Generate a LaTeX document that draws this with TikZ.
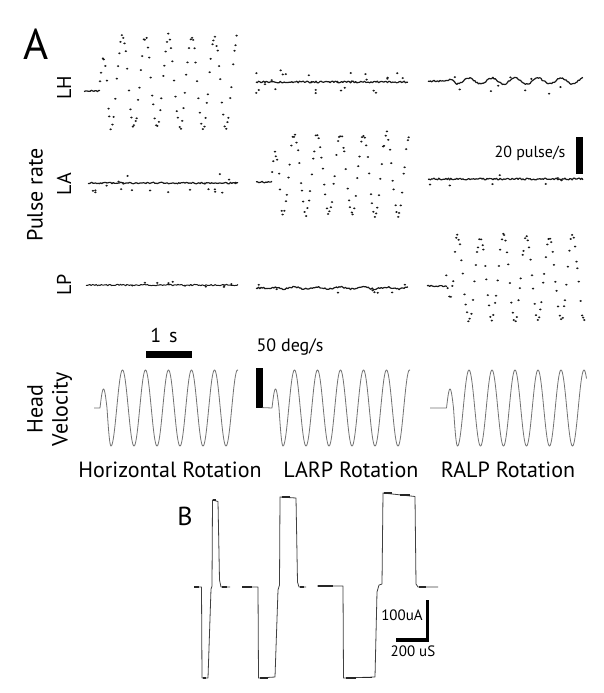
\documentclass[tikz,border=0pt]{standalone}
\usepackage{fontspec}
\setmainfont{PT Sans}
\begin{document}
\begin{tikzpicture}[x=1pt,y=-1pt,
  declare function={hv(\u)=(\u<7)?(0.5*sin(25.714*\u)):((\u<11)?(-sin(22.5*(\u-7))):(-cos(15.6522*(\u-11))));},
  trace/.style={line width=1.2pt, black!90, line join=round},
  hvline/.style={line width=0.8pt, black!55, line join=round},
  pulse/.style={line width=0.8pt, black!75, line join=round},
  pulsedark/.style={line width=1.7pt, black!85},
  dotf/.style={fill=black!90},
  big/.style={font=\fontsize{43}{43}\selectfont, inner sep=0pt},
  bigb/.style={font=\fontsize{26}{26}\selectfont, inner sep=0pt},
  rowlbl/.style={font=\fontsize{20}{20}\selectfont, inner sep=0pt, rotate=90},
  axlbl/.style={font=\fontsize{22}{22}\selectfont, inner sep=0pt, rotate=90},
  cond/.style={font=\fontsize{22}{22}\selectfont, inner sep=0pt},
  scl/.style={font=\fontsize{16}{16}\selectfont, inner sep=0pt},
  sclb/.style={font=\fontsize{15}{15}\selectfont, inner sep=0pt}
]
\useasboundingbox[fill=white] (0,0) rectangle (604,693);
\pgfmathsetseed{4242}

% ---------- labels panel A ----------
\node[big] (labA) at (36,44) {A};
\node[rowlbl] (lh) at (64,88) {LH};
\node[rowlbl] (la) at (64,184) {LA};
\node[rowlbl] (lp) at (64,285) {LP};
\node[axlbl] (prate) at (35,195) {Pulse rate};
\node[axlbl] (head) at (35,409) {Head};
\node[axlbl] (velo) at (62,409) {Velocity};
\node[cond] (c1) at (170,470) {Horizontal Rotation};
\node[cond] (c2) at (351,470) {LARP Rotation};
\node[cond] (c3) at (508,470) {RALP Rotation};

% ---------- scale bars ----------
\node[scl] (s20) at (530,153) {20 pulse/s};
\fill (576,137) rectangle (583,174);
\node[font=\fontsize{20}{20}\selectfont, inner sep=0pt] (s1) at (164,335) {1\hspace{0.4em}s};
\fill (146,351) rectangle (192,358);
\node[font=\fontsize{18}{18}\selectfont, inner sep=0pt] (s50) at (290,347) {50 deg/s};
\fill (255.5,368) rectangle (262.5,407.6);

% ---------- flat / noisy rate traces ----------
% LH
\draw[trace] plot[domain=84:100, samples=14] (\x,{91+0.8*rand});
\draw[trace] plot[domain=256:408, samples=120] (\x,{82+0.9*rand});
\draw[trace] plot[domain=428:583, samples=130] (\x,{((\x<446.5)?81:(81-3*hv(\x-446.5)))+0.8*rand});
% LA
\draw[trace] plot[domain=88:238, samples=120] (\x,{183+0.8*rand});
\draw[trace] plot[domain=256:272, samples=14] (\x,{182+0.8*rand});
\draw[trace] plot[domain=428:583, samples=130] (\x,{179+0.9*rand});
% LP
\draw[trace, line width=1pt] plot[domain=86:238, samples=120] (\x,{285+0.7*rand});
\draw[trace] plot[domain=256:408, samples=120] (\x,{((\x<272)?288:(288-1*hv(\x-272)))+0.8*rand});
\draw[trace] plot[domain=427:447, samples=16] (\x,{286+0.7*rand});

% scattered dots around the flat traces
\foreach \xa/\xb/\yc/\n/\sp in {256/408/82/26/12, 428/583/81/9/13, 88/238/183/20/10,
    428/583/179/7/8, 86/238/285/10/5, 256/408/288/8/6}{
  \foreach \k in {1,...,\n}{
    \pgfmathsetmacro\xx{\xa+(\xb-\xa)*rnd}
    \pgfmathsetmacro\yy{\yc+\sp*rand}
    \fill[dotf] (\xx,\yy) ellipse [x radius=1.3, y radius=1.0];
  }
}

% ---------- oscillating rate traces (dots) ----------
% LH, horizontal rotation
\foreach \k in {0,...,100}{
  \pgfmathsetmacro\uu{\k*1.37+0.4*rand}
  \pgfmathsetmacro\yy{82-46*hv(\uu)+3*rand}
  \fill[dotf] ({100+\uu},\yy) ellipse [x radius=1.3, y radius=1.0];
}
% LA, LARP rotation
\foreach \k in {0,...,100}{
  \pgfmathsetmacro\uu{\k*1.37+0.4*rand}
  \pgfmathsetmacro\yy{174-40*hv(\uu)+3*rand}
  \fill[dotf] ({272+\uu},\yy) ellipse [x radius=1.3, y radius=1.0];
}
% LP, RALP rotation (inverted)
\foreach \k in {0,...,100}{
  \pgfmathsetmacro\uu{\k*1.38+0.4*rand}
  \pgfmathsetmacro\yy{278+42*hv(\uu)+3*rand}
  \fill[dotf] ({446.5+\uu},\yy) ellipse [x radius=1.3, y radius=1.0];
}

% ---------- head velocity ----------
\draw[hvline] (94,408) -- (100,408) -- plot[domain=0:138, samples=320] ({100+\x},{408-38*hv(\x)});
\draw[hvline] (262.5,407.6) -- (272,408) -- plot[domain=0:138, samples=320] ({272+\x},{408-38*hv(\x)});
\draw[hvline] (430,408) -- (446.5,408) -- plot[domain=0:140, samples=320] ({446.5+\x},{408-38*hv(\x)});

% ---------- panel B ----------
\node[bigb] (labB) at (185,516) {B};
\draw[pulse] (194,587) -- (201.5,587) -- (202,678) -- (208,678) -- (211,589) -- (212,586)
  -- (212.5,500) -- (218,501.5) -- (219.5,580) -- (221,587) -- (230,587);
\draw[pulse] (242,587) -- (258,587) -- (258.5,678) -- (275,677) -- (278,590) -- (279.5,585)
  -- (280,497) -- (296,498) -- (297.5,582) -- (299,587) -- (306,587);
\draw[pulse] (317,586) -- (343,586) -- (343.5,678) -- (375,677) -- (377,592) -- (379,585)
  -- (382,584) -- (383,493) -- (415,496.5) -- (416,584) -- (418,587) -- (438,587);
\foreach \pa/\pb/\py in {194/199/587, 222/227/587, 242/252/587, 300/304/587, 318/333/586,
    419/426/587, 203/206/678, 260/268/678, 346/356/678, 362/372/677.5, 213/216/500.3,
    282/290/497.2, 384/392/493.3, 400/410/495}{
  \draw[pulsedark] (\pa,\py) -- (\pb,\py);
}
\fill (425.5,600) rectangle (428.8,641.5);
\fill (396,638) rectangle (428.8,641.5);
\node[sclb] (s100) at (402,615) {100uA};
\node[sclb] (s200) at (413,651) {200 uS};
\end{tikzpicture}
\end{document}
